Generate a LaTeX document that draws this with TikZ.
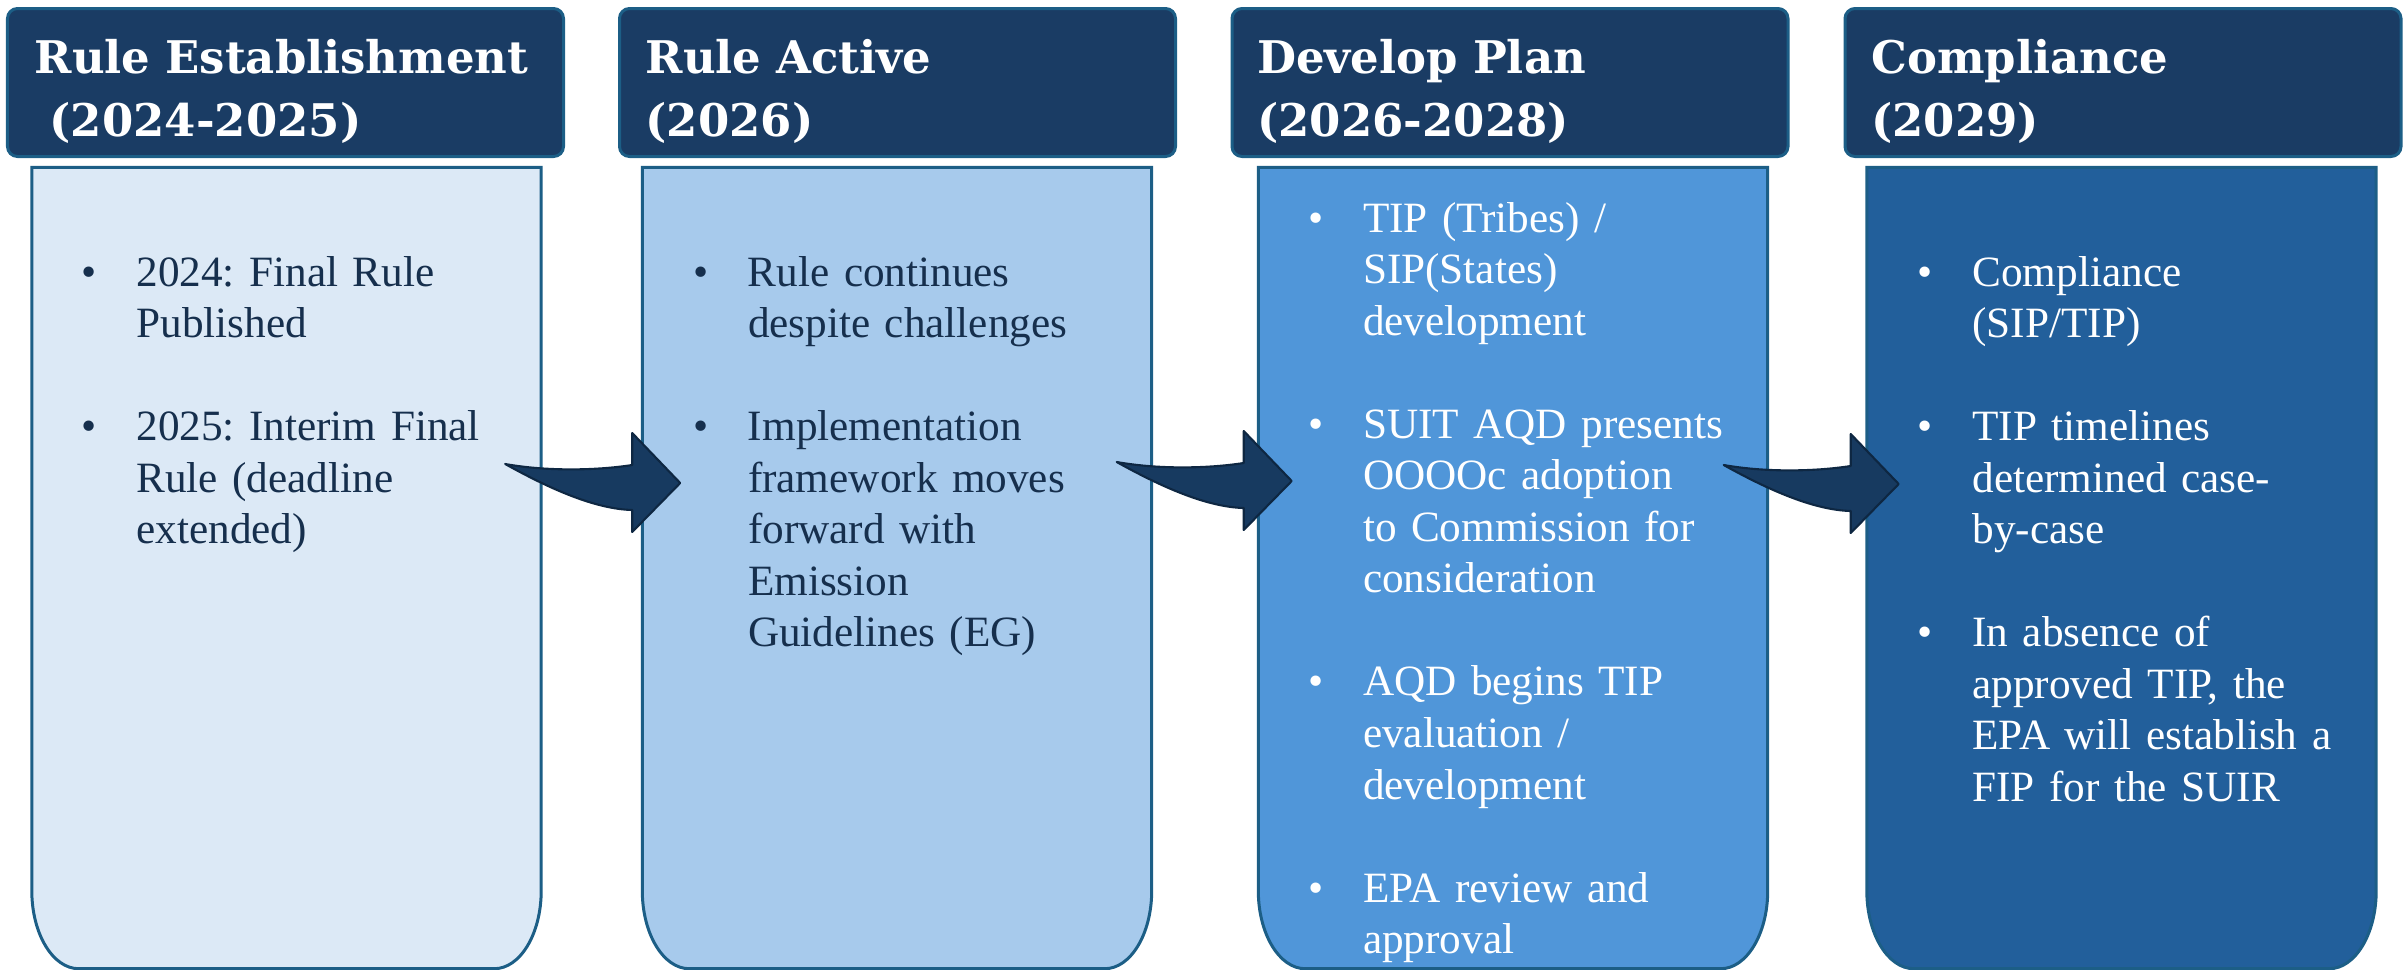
\documentclass[tikz,border=0pt]{standalone}
\usepackage{fontspec}
\setmainfont{Liberation Serif}
\newfontfamily\headfont{DejaVu Serif}
\usetikzlibrary{calc}

\definecolor{navy}{HTML}{1A3C64}
\definecolor{edge}{HTML}{1C5E86}
\definecolor{pale}{HTML}{DCE9F6}
\definecolor{light}{HTML}{A7CAEC}
\definecolor{mid}{HTML}{5096D9}
\definecolor{deep}{HTML}{225F9B}
\definecolor{arrowfill}{HTML}{173A60}
\definecolor{arrowedge}{HTML}{0E2742}
\definecolor{ink}{HTML}{162F4D}

% one bullet paragraph, hanging indent after the first line
\newcommand{\bitem}[1]{\hangindent=0.55cm\hangafter=1\noindent\makebox[0.55cm][l]{\textbullet}#1\par}
\newcommand{\bgap}{\vspace{0.515cm}}

% column body: square top, rounded bottom
\newcommand{\bodyshape}[2]{%
\draw[draw=edge, line width=0.03cm, fill=#2] (#1.north west) -- (#1.north east)
  -- ([yshift=0.78cm]#1.south east) arc[start angle=0, end angle=-90, x radius=0.47cm, y radius=0.78cm]
  -- ([xshift=0.47cm]#1.south west) arc[start angle=270, end angle=180, x radius=0.47cm, y radius=0.78cm]
  -- cycle;}

% curved block arrow, tail at #1
\newcommand{\blockarrow}[1]{%
\begin{scope}[shift={#1}]
\draw[draw=arrowedge, line width=0.6pt, fill=arrowfill, line join=round]
  (0,0) .. controls (0.45,-0.08) and (0.95,-0.06) .. (1.27,-0.01)
  -- (1.27,0.31) -- (1.75,-0.19) -- (1.27,-0.68) -- (1.27,-0.46)
  .. controls (0.90,-0.45) and (0.45,-0.25) .. (0,0) -- cycle;
\end{scope}}

\begin{document}
\begin{tikzpicture}[
  header/.style={draw=edge, line width=0.03cm, fill=navy, rounded corners=0.1cm,
    minimum width=5.56cm, minimum height=1.48cm, inner sep=0pt},
  headtext/.style={anchor=base west, text=white, text width=5.3cm, inner sep=0pt,
    font=\headfont\bfseries\fontsize{12.8pt}{18.2pt}\selectfont},
  body/.style={minimum width=5.08cm, minimum height=8cm, inner sep=0pt},
  bodytext/.style={anchor=base west, text width=4.7cm, inner sep=0pt,
    font=\fontsize{12.3pt}{14.66pt}\selectfont\raggedright\frenchspacing}
]
\useasboundingbox (0,0) rectangle (24.07,-9.69);

% headers
\node[header] (h1) at (2.855,-0.825) {};
\node[header] (h2) at (8.975,-0.825) {};
\node[header] (h3) at (15.10,-0.825) {};
\node[header] (h4) at (21.23,-0.825) {};
\node[headtext] (t1) at ($(h1.north west)+(0.28,-0.66)$) {Rule Establishment\\~(2024-2025)};
\node[headtext] (t2) at ($(h2.north west)+(0.27,-0.66)$) {Rule Active\\(2026)};
\node[headtext] (t3) at ($(h3.north west)+(0.26,-0.66)$) {Develop Plan\\(2026-2028)};
\node[headtext] (t4) at ($(h4.north west)+(0.27,-0.66)$) {Compliance\\(2029)};

% bodies
\node[body] (b1) at (2.865,-5.68) {};
\node[body] (b2) at (8.97,-5.68) {};
\node[body] (b3) at (15.13,-5.68) {};
\node[body] (b4) at (21.215,-5.68) {};
\bodyshape{b1}{pale}
\bodyshape{b2}{light}
\bodyshape{b3}{mid}
\bodyshape{b4}{deep}

\node[bodytext, text=ink] (l1) at ($(b1.north west)+(0.49,-1.19)$) {%
\bitem{2024: Final Rule\newline Published}\bgap
\bitem{2025: Interim Final\newline Rule (deadline\newline extended)}};
\node[bodytext, text=ink] (l2) at ($(b2.north west)+(0.50,-1.19)$) {%
\bitem{Rule continues\newline despite challenges}\bgap
\bitem{Implementation\newline framework moves\newline forward with\newline Emission\newline Guidelines (EG)}};
\node[bodytext, text=white] (l3) at ($(b3.north west)+(0.49,-0.65)$) {%
\bitem{TIP (Tribes) /\newline SIP(States)\newline development}\bgap
\bitem{SUIT AQD presents\newline OOOOc adoption\newline to Commission for\newline consideration}\bgap
\bitem{AQD begins TIP\newline evaluation /\newline development}\bgap
\bitem{EPA review and\newline approval}};
\node[bodytext, text=white] (l4) at ($(b4.north west)+(0.50,-1.19)$) {%
\bitem{Compliance\newline (SIP/TIP)}\bgap
\bitem{TIP timelines\newline determined case-\newline by-case}\bgap
\bitem{In absence of\newline approved TIP, the\newline EPA will establish a\newline FIP for the SUIR}};

% arrows between columns
\blockarrow{($(b1.east)+(-0.36,1.04)$)}
\blockarrow{($(b2.east)+(-0.35,1.06)$)}
\blockarrow{($(b3.east)+(-0.44,1.03)$)}
\end{tikzpicture}
\end{document}
